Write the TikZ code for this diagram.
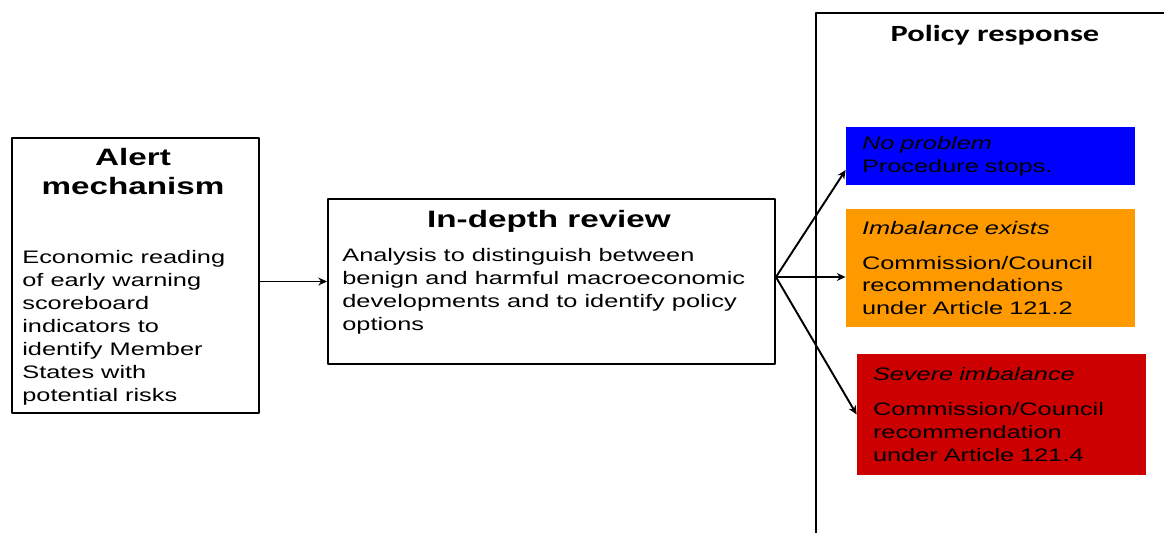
\documentclass[tikz,border=0pt]{standalone}
\usepackage{fontspec}
\setmainfont{Liberation Sans}[FakeStretch=1.4]
\newfontfamily\calibrifont{Carlito}[FakeStretch=1.4]
\usetikzlibrary{arrows.meta}
\definecolor{nopblue}{RGB}{0,0,255}
\definecolor{imborange}{RGB}{255,153,0}
\definecolor{sevred}{RGB}{204,0,0}
\tikzset{
  box/.style={draw, line width=1.1pt, inner sep=0pt},
  ttl/.style={font=\fontsize{13.5}{16.4}\selectfont\bfseries, align=center, inner sep=0pt},
  txt/.style={font=\fontsize{10.3}{13}\selectfont, align=left, inner sep=0pt},
  resp/.style={txt, text width=5.14cm, inner xsep=0.32cm, minimum height=#1}
}
\begin{document}
\begin{tikzpicture}[line join=round, line cap=round, >={Stealth[length=5pt,width=4.5pt]}]
\useasboundingbox (0,0) rectangle (23.28,10.64);
\node[box, minimum width=4.94cm, minimum height=5.5cm] (alert) at (2.71,5.13) {};
\node[ttl, anchor=north] (alertttl) at (2.66,7.68) {Alert\\mechanism};
\node[txt, anchor=north west] (alerttxt) at (0.44,5.63) {Economic reading\\of early warning\\scoreboard\\indicators to\\identify Member\\States with\\potential risks};
\node[box, minimum width=8.94cm, minimum height=3.3cm] (review) at (11.03,5.01) {};
\node[ttl, anchor=north] (reviewttl) at (10.98,6.44) {In-depth review};
\node[txt, anchor=north west] (reviewtxt) at (6.84,5.67) {Analysis to distinguish between\\benign and harmful macroeconomic\\developments and to identify policy\\options};
\draw[line width=1.1pt] (23.5,10.38) -- (16.32,10.38) -- (16.32,-0.2);
\node[anchor=north, inner sep=0pt, font=\calibrifont\fontsize{13.2}{16}\selectfont\bfseries] (policyttl) at (19.9,10.14) {Policy response};
\node[resp=1.16cm, fill=nopblue] (noprob) at (19.81,7.52) {\textit{No problem}\\Procedure stops.};
\node[resp=2.36cm, fill=imborange] (imbal) at (19.81,5.28) {\textit{Imbalance exists}\\[6.8pt]Commission/Council\\recommendations\\under Article 121.2};
\node[resp=2.42cm, fill=sevred] (severe) at (20.03,2.35) {\textit{Severe imbalance}\\[6.8pt]Commission/Council\\recommendation\\under Article 121.4};
\coordinate (fork) at ([yshift=0.09cm]review.east);
\draw[->, line width=1.1pt] (alert.east |- review.west) -- (review.west);
\draw[->, line width=1.1pt] (fork) -- ([yshift=-0.28cm]noprob.west);
\draw[->, line width=1.1pt] (fork) -- (fork -| imbal.west);
\draw[->, line width=1.1pt] (fork) -- (severe.west);
\end{tikzpicture}
\end{document}
